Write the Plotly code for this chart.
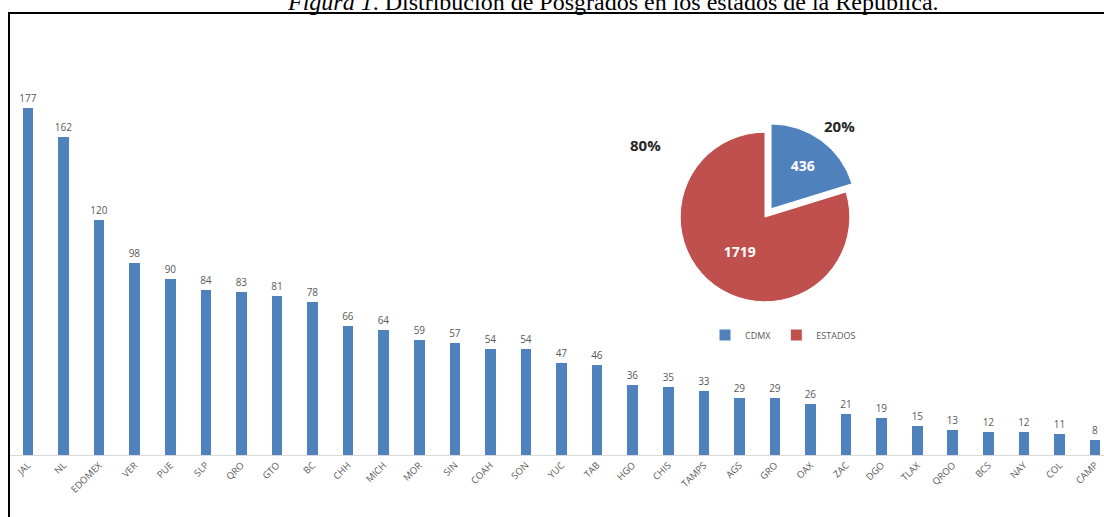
import plotly.graph_objects as go

# ---- data ----
states = ["JAL", "NL", "EDOMEX", "VER", "PUE", "SLP", "QRO", "GTO", "BC", "CHH",
          "MICH", "MOR", "SIN", "COAH", "SON", "YUC", "TAB", "HGO", "CHIS", "TAMPS",
          "AGS", "GRO", "OAX", "ZAC", "DGO", "TLAX", "QROO", "BCS", "NAY", "COL", "CAMP"]
posgrados = [177, 162, 120, 98, 90, 84, 83, 81, 78, 66,
             64, 59, 57, 54, 54, 47, 46, 36, 35, 33,
             29, 29, 26, 21, 19, 15, 13, 12, 12, 11, 8]

pie_labels = ["CDMX", "ESTADOS"]
pie_values = [436, 1719]

title_text = "<i>Figura 1</i>. Distribución de Posgrados en los estados de la República."

W, H = 1104, 517
BLUE = "#4F81BD"
RED = "#C0504D"
GRAY = "#595959"

fig = go.Figure()

fig.add_trace(go.Bar(
    x=states, y=posgrados,
    marker=dict(color=BLUE, line=dict(width=0)),
    width=0.3,
    text=[str(v) for v in posgrados],
    textposition="outside",
    constraintext="none",
    textfont=dict(size=10, color=GRAY, family="Open Sans, Arial"),
    cliponaxis=False,
    showlegend=False,
))

fig.add_trace(go.Pie(
    labels=pie_labels, values=pie_values,
    marker=dict(colors=[BLUE, RED], line=dict(color="white", width=1)),
    sort=False, direction="clockwise", rotation=0,
    pull=[0.12, 0],
    textposition="inside",
    insidetextfont=dict(size=14, color="white", family="Open Sans, Arial"),
    texttemplate="<b>%{value}</b>",
    domain=dict(x=[670 / W, 860 / W], y=[1 - 312 / H, 1 - 122 / H]),
    showlegend=True,
))

total = sum(pie_values)
pcts = [f"<b>{round(100 * v / total)}%</b>" for v in pie_values]

annotations = [
    dict(text=title_text, x=613 / W, y=1 - 17 / H, xref="paper", yref="paper",
         xanchor="center", yanchor="bottom", showarrow=False,
         font=dict(family="Liberation Serif, Times New Roman, serif", size=24, color="black")),
    dict(text=pcts[0], x=857 / W, y=1 - 114 / H, xref="paper", yref="paper",
         showarrow=False, font=dict(size=15, color="#262626", family="Open Sans, Arial")),
    dict(text=pcts[1], x=645 / W, y=1 - 133 / H, xref="paper", yref="paper",
         showarrow=False, font=dict(size=15, color="#262626", family="Open Sans, Arial")),
]

shapes = [
    dict(type="rect", xref="paper", yref="paper",
         x0=9 / W, x1=1.02, y0=-0.05, y1=1 - 13 / H,
         line=dict(color="black", width=2), fillcolor="rgba(0,0,0,0)", layer="above"),
]

fig.update_layout(
    width=W, height=H,
    margin=dict(l=0, r=0, t=0, b=0),
    paper_bgcolor="white", plot_bgcolor="white",
    annotations=annotations,
    shapes=shapes,
    bargap=0,
    xaxis=dict(
        domain=[10 / W, 1.0],
        range=[-0.506, 30.25],
        tickangle=-45,
        tickfont=dict(size=9.5, color=GRAY, family="Open Sans, Arial"),
        showline=True, linecolor="#D9D9D9", linewidth=1,
        showgrid=False, ticks="", zeroline=False,
    ),
    yaxis=dict(
        domain=[62 / H, 1 - 81.5 / H],
        range=[0, 190],
        visible=False, showgrid=False, zeroline=False,
    ),
    legend=dict(
        orientation="h", x=783 / W, y=1 - 335 / H, xanchor="center", yanchor="middle",
        font=dict(size=9, color=GRAY, family="Open Sans, Arial"),
        bgcolor="rgba(0,0,0,0)", itemwidth=30, tracegroupgap=0,
    ),
)

fig.write_html(
    "out.html",
    config={"displayModeBar": False},
    post_script="document.body.style.margin='0';document.body.style.overflow='hidden';",
)
